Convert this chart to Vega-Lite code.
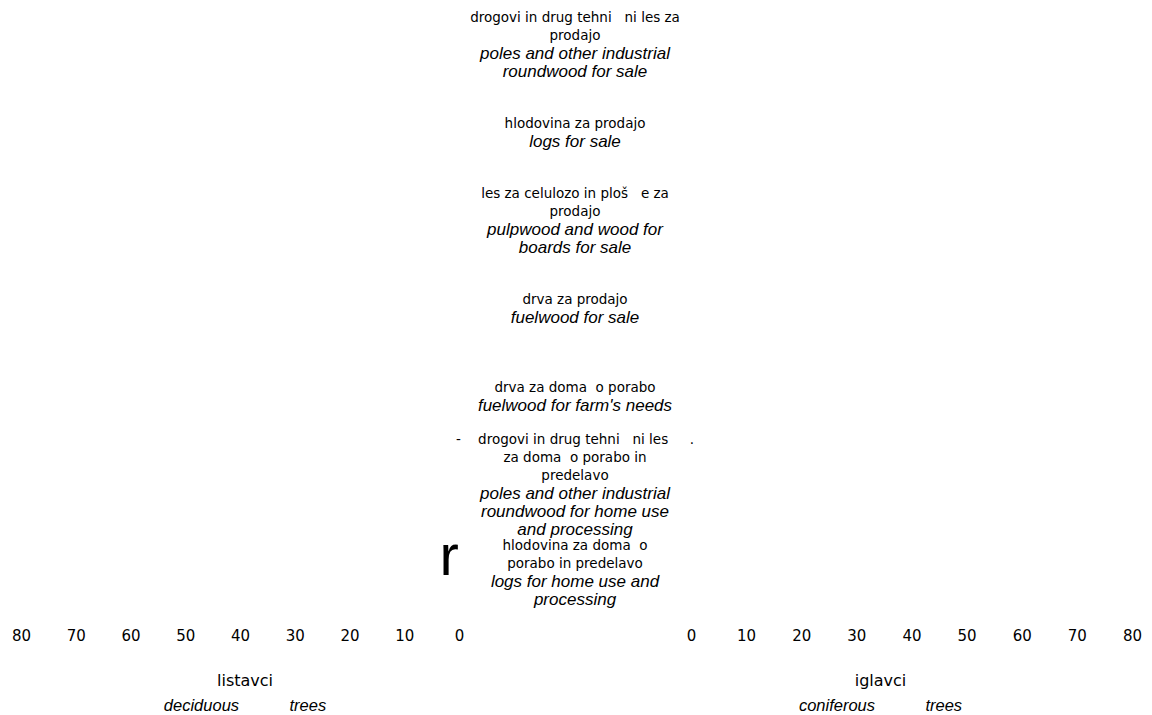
{
  "$schema": "https://vega.github.io/schema/vega-lite/v6.json",
  "padding": {"left": 11, "top": 0, "right": 0, "bottom": 0},
  "bounds": "flush",
  "spacing": 0,
  "config": {
    "view": {"stroke": null},
    "font": "DejaVu Sans",
    "axis": {"labelColor": "#000", "titleColor": "#000"},
    "title": {"color": "#000", "subtitleColor": "#000"}
  },
  "datasets": {
    "rows": [
      {"code": "1", "sl_prev2": "", "sl_prev": "drogovi in drug tehni\u00a0\u00a0\u00a0ni les za", "sl_last": "prodajo", "en": "poles and other industrial\nroundwood for sale", "deciduous": 0, "coniferous": 0, "note": null, "note_x": null},
      {"code": "2", "sl_prev2": "", "sl_prev": "", "sl_last": "hlodovina za prodajo", "en": "logs for sale", "deciduous": 0, "coniferous": 0, "note": null, "note_x": null},
      {"code": "3", "sl_prev2": "", "sl_prev": "les za celulozo in ploš\u00a0\u00a0\u00a0e za", "sl_last": "prodajo", "en": "pulpwood and wood for\nboards for sale", "deciduous": 0, "coniferous": 0, "note": null, "note_x": null},
      {"code": "4", "sl_prev2": "", "sl_prev": "", "sl_last": "drva za prodajo", "en": "fuelwood for sale", "deciduous": 0, "coniferous": 0, "note": null, "note_x": null},
      {"code": "5", "sl_prev2": "", "sl_prev": "", "sl_last": "drva za doma\u00a0\u00a0o porabo", "en": "fuelwood for farm's needs", "deciduous": 0, "coniferous": 0, "note": null, "note_x": null},
      {"code": "6", "sl_prev2": "-\u00a0\u00a0\u00a0\u00a0drogovi in drug tehni\u00a0\u00a0\u00a0ni les\u00a0\u00a0\u00a0\u00a0\u00a0.", "sl_prev": "za doma\u00a0\u00a0o porabo in", "sl_last": "predelavo", "en": "poles and other industrial\nroundwood for home use\nand processing", "deciduous": 0, "coniferous": 0, "note": null, "note_x": null},
      {"code": "7", "sl_prev2": "", "sl_prev": "hlodovina za doma\u00a0\u00a0o", "sl_last": "porabo in predelavo", "en": "logs for home use and\nprocessing", "deciduous": 0, "coniferous": 0, "note": "r", "note_x": 1.8}
    ]
  },
  "hconcat": [
    {
      "width": 438,
      "height": 616,
      "data": {"name": "rows"},
      "title": {
        "text": "listavci",
        "subtitle": "deciduous\u00a0\u00a0\u00a0\u00a0\u00a0\u00a0\u00a0\u00a0\u00a0\u00a0\u00a0trees",
        "orient": "bottom",
        "anchor": "middle",
        "font": "DejaVu Sans",
        "fontSize": 16,
        "fontWeight": "normal",
        "subtitleFont": "Liberation Sans",
        "subtitleFontStyle": "italic",
        "subtitleFontSize": 16.5,
        "subtitlePadding": 9,
        "offset": 30,
        "dx": 5
      },
      "encoding": {
        "y": {"field": "code", "type": "nominal", "sort": null, "axis": null, "scale": {"paddingInner": 0, "paddingOuter": 0}}
      },
      "layer": [
        {
          "mark": {"type": "bar", "color": "#7f7f7f"},
          "encoding": {
            "x": {
              "field": "deciduous", "type": "quantitative",
              "scale": {"domain": [0, 80], "reverse": true},
              "axis": {"title": null, "values": [0, 10, 20, 30, 40, 50, 60, 70, 80], "ticks": false, "domain": false, "grid": false, "labelFlush": false, "labelFont": "DejaVu Sans", "labelFontSize": 15, "labelPadding": 12}
            }
          }
        },
        {
          "transform": [{"filter": "datum.note != null"}],
          "mark": {"type": "text", "font": "Liberation Sans", "fontSize": 58, "baseline": "alphabetic", "align": "center", "dy": 3},
          "encoding": {
            "x": {"field": "note_x", "type": "quantitative"},
            "text": {"field": "note"}
          }
        }
      ]
    },
    {
      "width": 232,
      "height": 616,
      "data": {"name": "rows"},
      "encoding": {
        "y": {"field": "code", "type": "nominal", "sort": null, "axis": null, "scale": {"paddingInner": 0, "paddingOuter": 0}}
      },
      "layer": [
        {
          "mark": {"type": "text", "font": "DejaVu Sans", "fontSize": 13.5, "baseline": "bottom", "align": "center", "dy": -1},
          "encoding": {"text": {"field": "sl_last"}}
        },
        {
          "transform": [{"filter": "datum.sl_prev != ''"}],
          "mark": {"type": "text", "font": "DejaVu Sans", "fontSize": 13.5, "baseline": "bottom", "align": "center", "dy": -19},
          "encoding": {"text": {"field": "sl_prev"}}
        },
        {
          "transform": [{"filter": "datum.sl_prev2 != ''"}],
          "mark": {"type": "text", "font": "DejaVu Sans", "fontSize": 13.5, "baseline": "bottom", "align": "center", "dy": -37},
          "encoding": {"text": {"field": "sl_prev2"}}
        },
        {
          "mark": {"type": "text", "font": "Liberation Sans", "fontStyle": "italic", "fontSize": 17, "baseline": "top", "align": "center", "lineBreak": "\n", "lineHeight": 18, "dy": 2},
          "encoding": {"text": {"field": "en"}}
        }
      ]
    },
    {
      "width": 441,
      "height": 616,
      "data": {"name": "rows"},
      "title": {
        "text": "iglavci",
        "subtitle": "coniferous\u00a0\u00a0\u00a0\u00a0\u00a0\u00a0\u00a0\u00a0\u00a0\u00a0\u00a0trees",
        "orient": "bottom",
        "anchor": "middle",
        "font": "DejaVu Sans",
        "fontSize": 16,
        "fontWeight": "normal",
        "subtitleFont": "Liberation Sans",
        "subtitleFontStyle": "italic",
        "subtitleFontSize": 16.5,
        "subtitlePadding": 9,
        "offset": 30,
        "dx": -31
      },
      "mark": {"type": "bar", "color": "#7f7f7f"},
      "encoding": {
        "y": {"field": "code", "type": "nominal", "sort": null, "axis": null, "scale": {"paddingInner": 0, "paddingOuter": 0}},
        "x": {
          "field": "coniferous", "type": "quantitative",
          "scale": {"domain": [0, 80]},
          "axis": {"title": null, "values": [0, 10, 20, 30, 40, 50, 60, 70, 80], "ticks": false, "domain": false, "grid": false, "labelFlush": false, "labelFont": "DejaVu Sans", "labelFontSize": 15, "labelPadding": 12}
        }
      }
    }
  ]
}
